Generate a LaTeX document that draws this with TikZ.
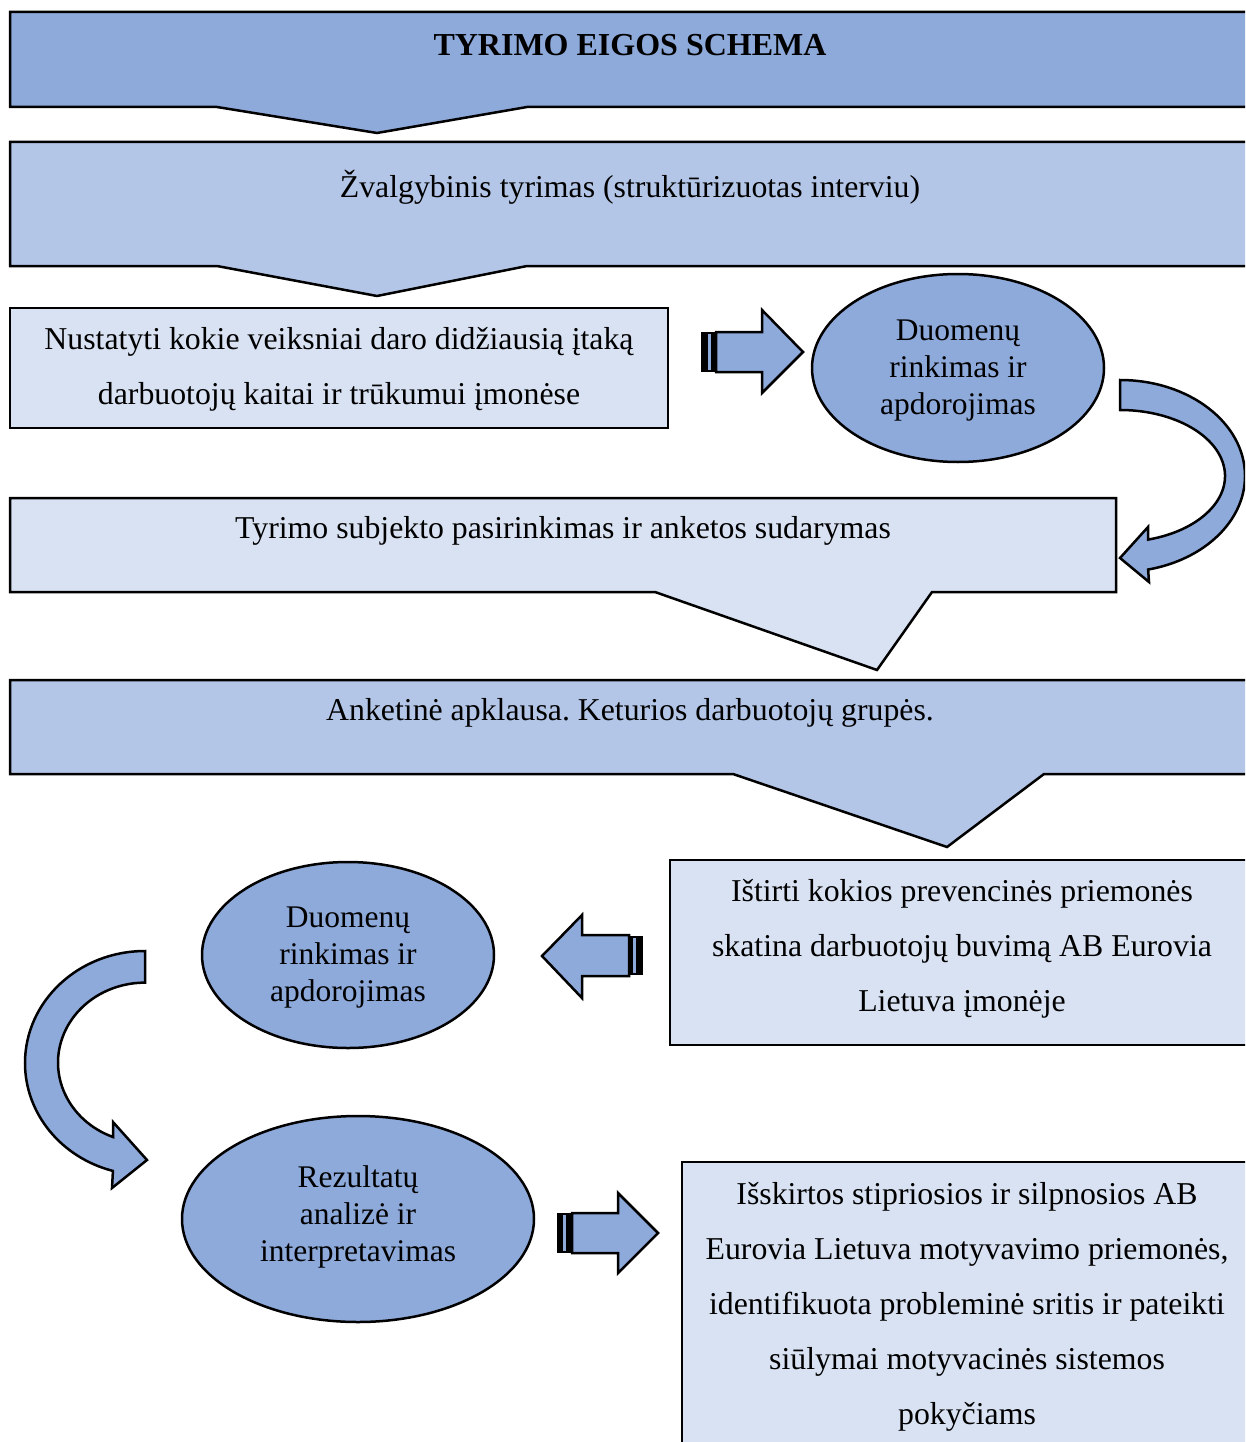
\documentclass[tikz,border=0pt]{standalone}
\usepackage{fontspec}
\setmainfont{Liberation Serif}
\usetikzlibrary{shapes.geometric}
\definecolor{dk}{HTML}{8EAADB}
\definecolor{md}{HTML}{B4C6E7}
\definecolor{lt}{HTML}{D9E2F3}
\frenchspacing
\begin{document}
\begin{tikzpicture}[x=1pt,y=-1pt, line join=miter,
 shp/.style={draw=black, line width=2.5pt},
 txt/.style={font=\fontsize{31.8}{55}\selectfont, align=center, inner sep=0pt},
 etxt/.style={font=\fontsize{31.5}{37}\selectfont, align=center, inner sep=0pt},
 ell/.style={shp, fill=dk, ellipse, inner sep=0pt}]
\clip (0,0) rectangle (1245,1442);
\fill[white] (0,0) rectangle (1245,1442);

% title
\draw[shp, fill=dk] (10,12) -- (1260,12) -- (1260,107) -- (527,107) -- (377,133) -- (217,107) -- (10,107) -- cycle;
\node[font=\bfseries\fontsize{32}{36}\selectfont, inner sep=0pt] (title) at (630,45) {TYRIMO EIGOS SCHEMA};

% box 2
\draw[shp, fill=md] (10,142) -- (1260,142) -- (1260,266) -- (527,266) -- (377,296) -- (217,266) -- (10,266) -- cycle;
\node[txt] (s1) at (630,187) {Žvalgybinis tyrimas (struktūrizuotas interviu)};

% box 3
\draw[shp, fill=lt] (10,308) rectangle (668,428);
\node[txt] (s2) at (339,369) {Nustatyti kokie veiksniai daro didžiausią įtaką\\darbuotojų kaitai ir trūkumui įmonėse};

% arrow 1
\fill[black] (701,332) rectangle (717,372);
\fill[dk] (708,334) rectangle (711,370);
\draw[shp, fill=dk] (716,332) -- (762,332) -- (762,310) -- (803,352) -- (762,393) -- (762,372) -- (716,372) -- cycle;

% ellipse 1
\node[ell, minimum width=292, minimum height=188] (e1) at (958,368) {};
\node[etxt] (e1t) at (958,371) {Duomenų\\rinkimas ir\\apdorojimas};

% box 4
\draw[shp, fill=lt] (10,498) -- (1116,498) -- (1116,592) -- (932,592) -- (877,670) -- (655,592) -- (10,592) -- cycle;
\node[txt] (s3) at (563,531) {Tyrimo subjekto pasirinkimas ir anketos sudarymas};

% curved arrow right
\draw[shp, fill=dk] (1120,380) arc[start angle=-90, end angle=77, x radius=125, y radius=96]
  -- (1149,582) -- (1120,558) -- (1148,527) -- (1148.06,539.6)
  arc[start angle=74.5, end angle=-90, x radius=105, y radius=66] -- cycle;

% box 5
\draw[shp, fill=md] (10,680) -- (1260,680) -- (1260,774) -- (1044,774) -- (947,847) -- (733,774) -- (10,774) -- cycle;
\node[txt] (s4) at (630,713) {Anketinė apklausa. Keturios darbuotojų grupės.};

% box 6
\draw[shp, fill=lt] (670,860) rectangle (1260,1045);
\node[txt] (s5) at (962,949) {Ištirti kokios prevencinės priemonės\\skatina darbuotojų buvimą AB Eurovia\\Lietuva įmonėje};

% arrow 2 (left)
\fill[black] (628,936) rectangle (643,975);
\fill[dk] (633,938) rectangle (636,973);
\draw[shp, fill=dk] (629,935) -- (582,935) -- (582,915) -- (542,956) -- (582,998) -- (582,976) -- (629,976) -- cycle;

% ellipse 2
\node[ell, minimum width=292, minimum height=186] (e2) at (348,955) {};
\node[etxt] (e2t) at (348,958) {Duomenų\\rinkimas ir\\apdorojimas};

% curved arrow left
\draw[shp, fill=dk] (145,951) arc[start angle=270, end angle=105.5, x radius=120, y radius=112]
  -- (112,1188) -- (147,1160) -- (113,1122) -- (113,1137)
  arc[start angle=111.6, end angle=270, x radius=87, y radius=80] -- cycle;

% ellipse 3
\node[ell, minimum width=352, minimum height=206] (e3) at (358,1219) {};
\node[etxt] (e3t) at (358,1217) {Rezultatų\\analizė ir\\interpretavimas};

% arrow 3
\fill[black] (557,1213) rectangle (573,1253);
\fill[dk] (563,1215) rectangle (566,1251);
\draw[shp, fill=dk] (572,1213) -- (618,1213) -- (618,1193) -- (658,1233) -- (618,1273) -- (618,1253) -- (572,1253) -- cycle;

% box 7
\draw[shp, fill=lt] (682,1162) rectangle (1260,1470);
\node[txt] (s6) at (967,1307) {Išskirtos stipriosios ir silpnosios AB\\Eurovia Lietuva motyvavimo priemonės,\\identifikuota probleminė sritis ir pateikti\\siūlymai motyvacinės sistemos\\pokyčiams};
\end{tikzpicture}
\end{document}
